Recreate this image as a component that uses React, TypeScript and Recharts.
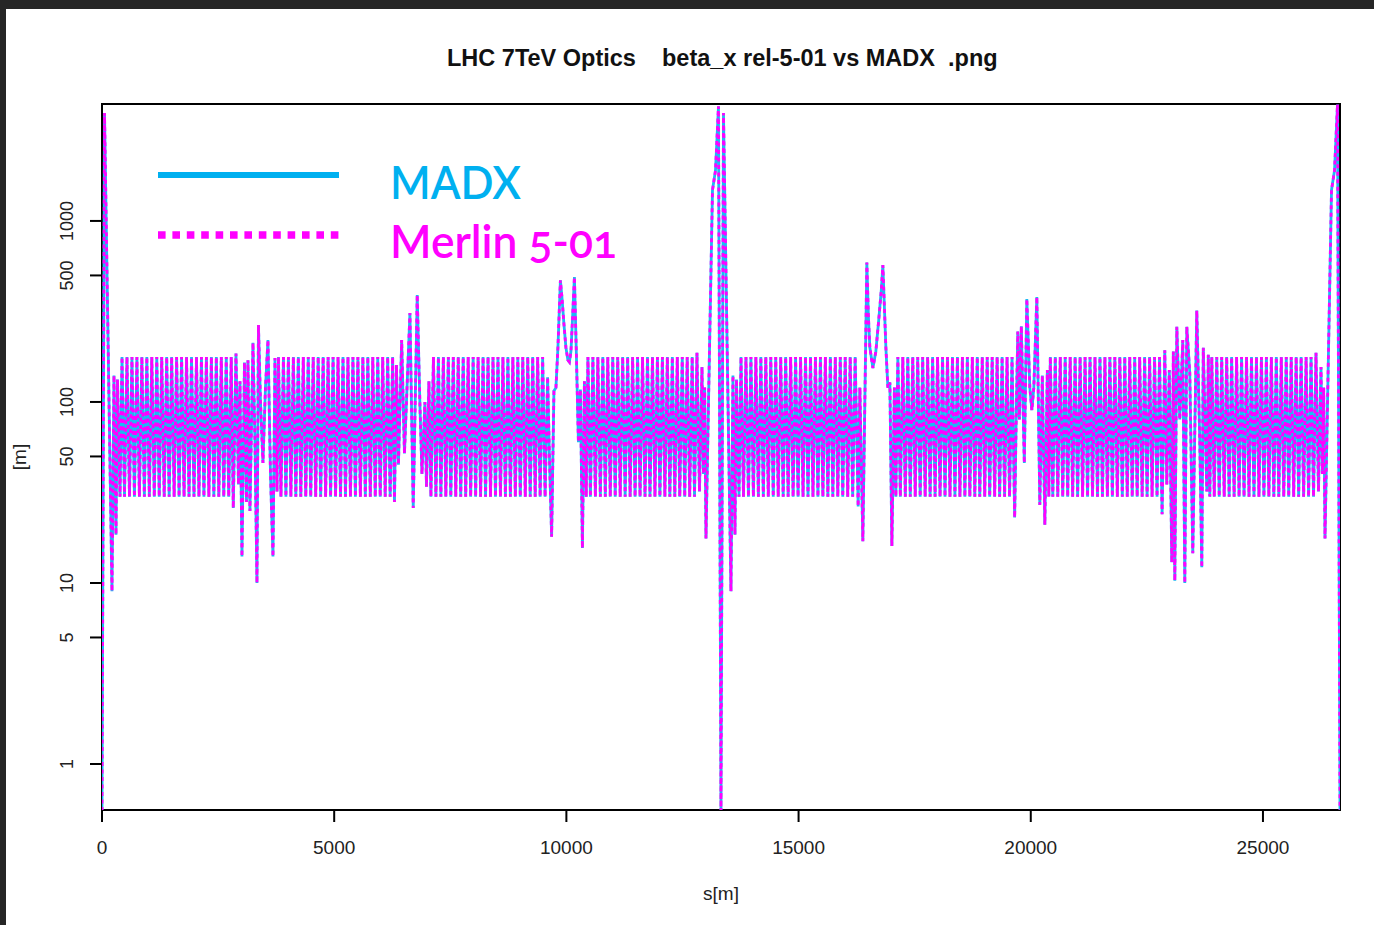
import React from 'react';
import { LineChart, Line, XAxis, YAxis } from 'recharts';

// ---- text ----
const TITLE_PARTS = ['LHC 7TeV Optics', 'beta_x rel-5-01 vs MADX', '.png'];
const X_TITLE = 's[m]';
const Y_TITLE = '[m]';
const SERIES_NAMES = ['MADX', 'Merlin 5-01'];

// ---- axes ----
const X_TICKS = [0, 5000, 10000, 15000, 20000, 25000];
const Y_TICKS = [1, 5, 10, 50, 100, 500, 1000];
const RING_LENGTH = 26659;
const Y_DOMAIN = [0.557, 4426];
const HALF_CELL = 53.45; // m, QF -> QD spacing in arc FODO cells

// ---- insertion regions: s [m], beta_x [m] ----
const IR1_RIGHT_S = [0, 54, 215, 258, 301, 334, 388];
const IR1_RIGHT_B = [0.55, 3950, 9, 140, 18.5, 133, 30];

const IR2_S = [2827, 2885, 2939, 2971, 3014, 3068, 3111, 3143, 3186, 3251, 3294, 3337, 3369, 3413, 3466, 3520, 3574, 3628, 3682, 3725, 3768];
const IR2_B = [26, 185, 35, 130, 14, 165, 28, 170, 25, 212, 60, 10, 266, 100, 46, 120, 220, 40, 14, 175, 32];

const IR3_S = [6298, 6341, 6384, 6453, 6513, 6631, 6702, 6788, 6847, 6890, 6954, 6987, 7040, 7083];
const IR3_B = [28, 160, 45, 220, 52, 310, 26, 390, 95, 40, 100, 34, 130, 30];

const IR4_S = [9542, 9596, 9635, 9682, 9732, 9775, 9818, 9871, 9904, 9947, 9990, 10033, 10065, 10098, 10130, 10173, 10216, 10259, 10302, 10345, 10388, 10427];
const IR4_B = [30, 137, 50, 18, 115, 120, 200, 470, 380, 270, 200, 170, 166, 190, 280, 490, 180, 60, 117, 15.6, 130, 30];

const IR5_S = [12759, 12812, 12866, 12920, 12952, 12978, 13006, 13146, 13211, 13275, 13329, 13383, 13544, 13587, 13630, 13663, 13717];
const IR5_B = [30, 187, 32, 156, 40, 120, 17.6, 1480, 1900, 4300, 0.55, 3950, 9, 140, 18.5, 133, 30];

const IR6_S = [16283, 16320, 16384, 16470, 16503, 16535, 16600, 16664, 16729, 16783, 16815, 16880, 16923, 16966, 17009, 17063, 17095];
const IR6_B = [26.5, 120, 17, 590, 300, 200, 154, 190, 290, 420, 570, 200, 120, 128, 16, 120, 30];

const IR7_S = [19653, 19689, 19721, 19754, 19797, 19861, 19915, 19980, 20023, 20066, 20131, 20195, 20249, 20303, 20357, 20389];
const IR7_B = [23, 90, 245, 80, 262, 46, 370, 120, 90, 120, 380, 27, 140, 21, 150, 30];

const IR8_S = [22828, 22886, 22929, 22983, 23037, 23070, 23102, 23145, 23209, 23274, 23317, 23360, 23424, 23489, 23575, 23640, 23683, 23715, 23791, 23823, 23855];
const IR8_B = [24, 193, 35, 150, 13, 190, 10.3, 260, 80, 220, 10, 260, 145, 14.6, 320, 60, 12.2, 199, 32, 182, 30];

const IR1_LEFT_S = [26089, 26142, 26196, 26250, 26282, 26308, 26336, 26476, 26541, 26605, 26659];
const IR1_LEFT_B = [30, 187, 32, 156, 40, 120, 17.6, 1480, 1900, 4400, 0.55];

// ---- arcs: first QF position and beta at successive QF / QD ----
const ARC_12_START = 431;
const ARC_12 = [
  177, 30, 177, 30, 177, 30, 177, 30, 177, 30,
  177, 30, 177, 30, 177, 30, 177, 30, 177, 30,
  177, 30, 177, 30, 177, 30, 177, 30, 177, 30,
  177, 30, 177, 30, 177, 30, 177, 30, 177, 30,
  177, 30, 177, 30, 177,
];
const ARC_23_START = 3800;
const ARC_23 = [
  177, 30, 177, 30, 177, 30, 177, 30, 177, 30,
  177, 30, 177, 30, 177, 30, 177, 30, 177, 30,
  177, 30, 177, 30, 177, 30, 177, 30, 177, 30,
  177, 30, 177, 30, 177, 30, 177, 30, 177, 30,
  177, 30, 177, 30, 177, 30, 177,
];
const ARC_34_START = 7137;
const ARC_34 = [
  177, 30, 177, 30, 177, 30, 177, 30, 177, 30,
  177, 30, 177, 30, 177, 30, 177, 30, 177, 30,
  177, 30, 177, 30, 177, 30, 177, 30, 177, 30,
  177, 30, 177, 30, 177, 30, 177, 30, 177, 30,
  177, 30, 177, 30, 177,
];
const ARC_45_START = 10464;
const ARC_45 = [
  177, 30, 177, 30, 177, 30, 177, 30, 177, 30,
  177, 30, 177, 30, 177, 30, 177, 30, 177, 30,
  177, 30, 177, 30, 177, 30, 177, 30, 177, 30,
  177, 30, 177, 30, 177, 30, 177, 30, 177, 30,
  177, 30, 177,
];
const ARC_56_START = 13760;
const ARC_56 = [
  177, 30, 177, 30, 177, 30, 177, 30, 177, 30,
  177, 30, 177, 30, 177, 30, 177, 30, 177, 30,
  177, 30, 177, 30, 177, 30, 177, 30, 177, 30,
  177, 30, 177, 30, 177, 30, 177, 30, 177, 30,
  177, 30, 177, 30, 177, 30, 177,
];
const ARC_67_START = 17138;
const ARC_67 = [
  177, 30, 177, 30, 177, 30, 177, 30, 177, 30,
  177, 30, 177, 30, 177, 30, 177, 30, 177, 30,
  177, 30, 177, 30, 177, 30, 177, 30, 177, 30,
  177, 30, 177, 30, 177, 30, 177, 30, 177, 30,
  177, 30, 177, 30, 177, 30, 177,
];
const ARC_78_START = 20421;
const ARC_78 = [
  177, 30, 177, 30, 177, 30, 177, 30, 177, 30,
  177, 30, 177, 30, 177, 30, 177, 30, 177, 30,
  177, 30, 177, 30, 177, 30, 177, 30, 177, 30,
  177, 30, 177, 30, 177, 30, 177, 30, 177, 30,
  177, 30, 177, 30, 177,
];
const ARC_81_START = 23898;
const ARC_81 = [
  177, 30, 177, 30, 177, 30, 177, 30, 177, 30,
  177, 30, 177, 30, 177, 30, 177, 30, 177, 30,
  177, 30, 177, 30, 177, 30, 177, 30, 177, 30,
  177, 30, 177, 30, 177, 30, 177, 30, 177, 30,
  177,
];

// ---- colours ----
const MADX_COLOR = '#00b0f0';
const MERLIN_COLOR = '#ff00ff';
const LINE_MADX = '#1cb8f3';

type Pt = { s: number; b: number };
const ir = (S: number[], B: number[]): Pt[] => S.map((s, i) => ({ s, b: B[i] }));
const arc = (start: number, V: number[]): Pt[] => V.map((b, i) => ({ s: start + i * HALF_CELL, b }));

const POINTS: Pt[] = [
  ...ir(IR1_RIGHT_S, IR1_RIGHT_B),
  ...arc(ARC_12_START, ARC_12),
  ...ir(IR2_S, IR2_B),
  ...arc(ARC_23_START, ARC_23),
  ...ir(IR3_S, IR3_B),
  ...arc(ARC_34_START, ARC_34),
  ...ir(IR4_S, IR4_B),
  ...arc(ARC_45_START, ARC_45),
  ...ir(IR5_S, IR5_B),
  ...arc(ARC_56_START, ARC_56),
  ...ir(IR6_S, IR6_B),
  ...arc(ARC_67_START, ARC_67),
  ...ir(IR7_S, IR7_B),
  ...arc(ARC_78_START, ARC_78),
  ...ir(IR8_S, IR8_B),
  ...arc(ARC_81_START, ARC_81),
  ...ir(IR1_LEFT_S, IR1_LEFT_B),
];

const DATA = POINTS.map((p) => ({ s: p.s, madx: p.b, merlin: p.b }));

const FONT = '"Liberation Sans", Arial, Helvetica, sans-serif';
const LEGEND_FONT = "Lato, 'Open Sans', sans-serif";

const XTick = (props: any) => {
  const { x, y, payload } = props;
  return (
    <text x={x} y={y} dy={32} textAnchor="middle" fontSize={19} fontFamily={FONT} fill="#222">
      {payload.value}
    </text>
  );
};

const YTick = (props: any) => {
  const { x, y, payload } = props;
  const bx = x - 17;
  return (
    <text
      x={bx}
      y={y}
      transform={`rotate(-90 ${bx} ${y})`}
      textAnchor="middle"
      fontSize={18}
      fontFamily={FONT}
      fill="#222"
    >
      {payload.value}
    </text>
  );
};

export default function App() {
  return (
    <div style={{ position: 'absolute', left: 0, top: 0, width: 1374, height: 925, background: '#262626', overflow: 'hidden' }}>
      <div style={{ position: 'absolute', left: 6, top: 9, right: 0, bottom: 0, background: '#ffffff' }} />
      <svg width={1374} height={925} style={{ position: 'absolute', left: 0, top: 0 }}>
        <rect x={102} y={104} width={1238} height={706} fill="none" stroke="#000" strokeWidth={2} />
      </svg>
      <div style={{ position: 'absolute', left: 0, top: 0 }}>
        <LineChart width={1374} height={925} data={DATA} margin={{ top: 104, right: 34, bottom: 0, left: 0 }}>
          <XAxis
            type="number"
            dataKey="s"
            domain={[0, RING_LENGTH]}
            ticks={X_TICKS}
            interval={0}
            allowDataOverflow
            axisLine={false}
            stroke="#000"
            tickLine={{ stroke: '#000', strokeWidth: 2 }}
            tickSize={12}
            tickMargin={0}
            height={115}
            tick={<XTick />}
          />
          <YAxis
            type="number"
            scale="log"
            domain={Y_DOMAIN}
            ticks={Y_TICKS}
            interval={0}
            allowDataOverflow
            axisLine={false}
            stroke="#000"
            tickLine={{ stroke: '#000', strokeWidth: 2 }}
            tickSize={12}
            tickMargin={0}
            width={102}
            tick={<YTick />}
          />
          <Line
            type="linear"
            dataKey="madx"
            name={SERIES_NAMES[0]}
            stroke={LINE_MADX}
            strokeWidth={2.8}
            dot={false}
            activeDot={false}
            isAnimationActive={false}
          />
          <Line
            type="linear"
            dataKey="merlin"
            name={SERIES_NAMES[1]}
            stroke={MERLIN_COLOR}
            strokeWidth={2.8}
            strokeDasharray="4 3.5"
            dot={false}
            activeDot={false}
            isAnimationActive={false}
          />
        </LineChart>
      </div>
      <svg width={1374} height={925} style={{ position: 'absolute', left: 0, top: 0, pointerEvents: 'none' }}>
        <g fontFamily={FONT} fontWeight="bold" fontSize={23.5} fill="#111">
          <text x={447} y={66}>{TITLE_PARTS[0]}</text>
          <text x={662} y={66}>{TITLE_PARTS[1]}</text>
          <text x={948} y={66}>{TITLE_PARTS[2]}</text>
        </g>
        <text x={721} y={900} textAnchor="middle" fontFamily={FONT} fontSize={19} fill="#222">{X_TITLE}</text>
        <text x={26} y={457} transform="rotate(-90 26 457)" textAnchor="middle" fontFamily={FONT} fontSize={19} fill="#222">{Y_TITLE}</text>
        <line x1={158} y1={175} x2={339} y2={175} stroke={MADX_COLOR} strokeWidth={6} />
        <line x1={158} y1={235} x2={339} y2={235} stroke={MERLIN_COLOR} strokeWidth={7.5} strokeDasharray="7.6 6.8" />
        <text x={390} y={199} fontFamily={LEGEND_FONT} fontWeight={600} fontSize={47} fill={MADX_COLOR} textLength={131} lengthAdjust="spacingAndGlyphs">
          {SERIES_NAMES[0]}
        </text>
        <text
          x={390}
          y={258}
          fontFamily={LEGEND_FONT}
          fontWeight={600}
          fontSize={47}
          fill={MERLIN_COLOR}
          textLength={227}
          lengthAdjust="spacingAndGlyphs"
          style={{ fontVariantNumeric: 'oldstyle-nums' }}
        >
          {SERIES_NAMES[1]}
        </text>
      </svg>
    </div>
  );
}
